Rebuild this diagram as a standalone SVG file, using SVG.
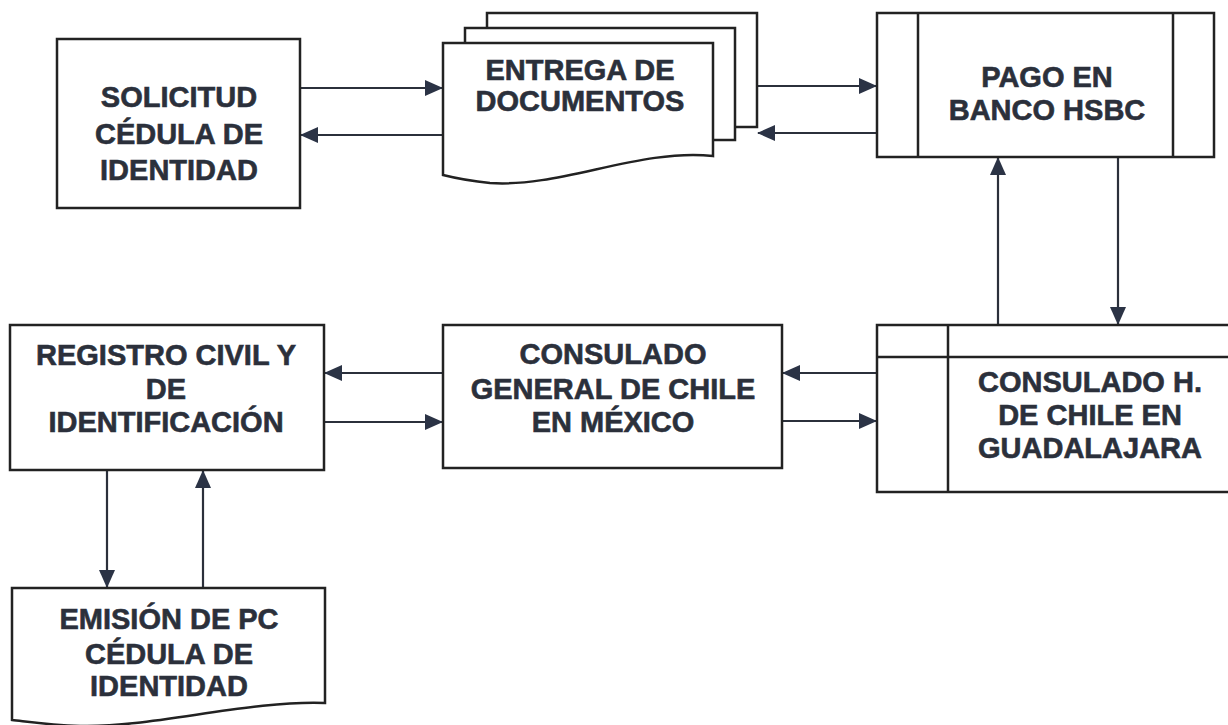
<svg xmlns="http://www.w3.org/2000/svg" width="1228" height="725" viewBox="0 0 1228 725">
<defs>
<style>
.box{fill:#fff;stroke:#222;stroke-width:2.5}
.ln{fill:none;stroke:#222;stroke-width:2.5}
.t{font-family:"Liberation Sans",Arial,sans-serif;font-weight:bold;font-size:29px;fill:#2b303b;stroke:#2b303b;stroke-width:0.6;text-anchor:middle}
.c{fill:none;stroke:#2b303b;stroke-width:2.2}
</style>
<marker id="ah" markerUnits="userSpaceOnUse" markerWidth="18" markerHeight="18" viewBox="0 0 18 18" refX="17" refY="9" orient="auto">
<path d="M0,1 L18,9 L0,17 Z" fill="#2b3345"/>
</marker>
</defs>
<rect width="1228" height="725" fill="#fff"/>
<g id="connectors">
<path class="c" d="M300,88 H442" marker-end="url(#ah)"/>
<path class="c" d="M443,135 H301" marker-end="url(#ah)"/>
<path class="c" d="M757,86 H876" marker-end="url(#ah)"/>
<path class="c" d="M877,133 H758" marker-end="url(#ah)"/>
<path class="c" d="M998,325 V158" marker-end="url(#ah)"/>
<path class="c" d="M1118,157 V324" marker-end="url(#ah)"/>
<path class="c" d="M877,373 H783" marker-end="url(#ah)"/>
<path class="c" d="M782,421 H876" marker-end="url(#ah)"/>
<path class="c" d="M443,373 H325" marker-end="url(#ah)"/>
<path class="c" d="M324,422 H442" marker-end="url(#ah)"/>
<path class="c" d="M107,470 V587" marker-end="url(#ah)"/>
<path class="c" d="M203,588 V471" marker-end="url(#ah)"/>
</g>
<g id="solicitud">
<rect class="box" x="57" y="39" width="243" height="169"/>
<text class="t" x="179" y="107">SOLICITUD</text>
<text class="t" x="179" y="144">CÉDULA DE</text>
<text class="t" x="179" y="180">IDENTIDAD</text>
</g>
<g id="entrega">
<rect class="box" x="487" y="13" width="270" height="114"/>
<rect class="box" x="465" y="28" width="270" height="112"/>
<path class="box" d="M443,43 H713 V156 C640,148 560,188 490,183 C470,181 455,178 443,175 Z"/>
<text class="t" x="580" y="80">ENTREGA DE</text>
<text class="t" x="580" y="111">DOCUMENTOS</text>
</g>
<g id="pago">
<rect class="box" x="877" y="13" width="337" height="144"/>
<path class="ln" d="M918,13 V157 M1173,13 V157"/>
<text class="t" x="1047" y="87">PAGO EN</text>
<text class="t" x="1047" y="120">BANCO HSBC</text>
</g>
<g id="consulado-h">
<rect class="box" x="877" y="325" width="370" height="167"/>
<path class="ln" d="M948,325 V492 M877,357 H1240"/>
<text class="t" x="1090" y="392">CONSULADO H.</text>
<text class="t" x="1090" y="425">DE CHILE EN</text>
<text class="t" x="1090" y="458">GUADALAJARA</text>
</g>
<g id="consulado-general">
<rect class="box" x="443" y="325" width="339" height="143"/>
<text class="t" x="613" y="364">CONSULADO</text>
<text class="t" x="613" y="399">GENERAL DE CHILE</text>
<text class="t" x="613" y="432">EN MÉXICO</text>
</g>
<g id="registro">
<rect class="box" x="10" y="325" width="314" height="145"/>
<text class="t" x="166" y="365">REGISTRO CIVIL Y</text>
<text class="t" x="166" y="399">DE</text>
<text class="t" x="166" y="432">IDENTIFICACIÓN</text>
</g>
<g id="emision">
<path class="box" d="M12,588 H325 V703 C250,700 150,728 80,726 C50,725 30,722 12,720 Z"/>
<text class="t" x="169" y="629">EMISIÓN DE PC</text>
<text class="t" x="169" y="664">CÉDULA DE</text>
<text class="t" x="169" y="696">IDENTIDAD</text>
</g>
</svg>
